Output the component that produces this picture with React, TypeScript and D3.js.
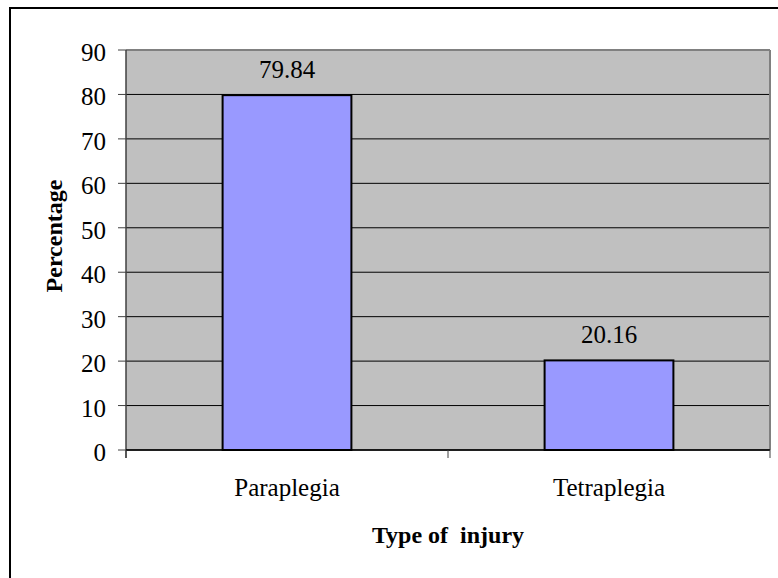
import React from "react";
import * as d3 from "d3";

const categories = ["Paraplegia", "Tetraplegia"];
const values = [79.84, 20.16];
const yTicks = [0, 10, 20, 30, 40, 50, 60, 70, 80, 90];
const yTitle = "Percentage";
const xTitle = "Type of  injury";

const W = 778;
const H = 578;
const plot = { left: 126, right: 770, top: 50, bottom: 450 };
const font = "'Liberation Serif', 'Times New Roman', serif";

export default function App() {
  const x = d3
    .scaleBand<string>()
    .domain(categories)
    .range([plot.left, plot.right])
    .paddingInner(0.6)
    .paddingOuter(0.3);
  const xOuter = d3.scaleBand<string>().domain(categories).range([plot.left, plot.right]);
  const y = d3.scaleLinear().domain([0, 90]).range([plot.bottom, plot.top]);
  const xTickPos = [plot.left, ...categories.map((c) => (xOuter(c) as number) + xOuter.bandwidth())];

  return (
    <svg
      width={W}
      height={H}
      style={{ position: "absolute", left: 0, top: 0, background: "#fff", fontFamily: font }}
    >
      <rect x={10} y={8} width={800} height={600} fill="#fff" stroke="#000" strokeWidth={2} />
      <rect
        x={plot.left}
        y={plot.top}
        width={plot.right - plot.left}
        height={plot.bottom - plot.top}
        fill="#C0C0C0"
      />
      {yTicks.map((t) => (
        <line key={"g" + t} x1={plot.left} x2={plot.right} y1={y(t)} y2={y(t)} stroke="#000" strokeWidth={1} />
      ))}
      <line x1={plot.left} x2={plot.right} y1={plot.top} y2={plot.top} stroke="#808080" strokeWidth={2} />
      <line x1={plot.right} x2={plot.right} y1={plot.top} y2={plot.bottom} stroke="#808080" strokeWidth={2} />
      {categories.map((c, i) => (
        <rect
          key={c}
          x={x(c)}
          y={y(values[i])}
          width={x.bandwidth()}
          height={y(0) - y(values[i])}
          fill="#9999FF"
          stroke="#000"
          strokeWidth={2}
        />
      ))}
      <line x1={plot.left} x2={plot.left} y1={plot.top} y2={plot.bottom + 8} stroke="#404040" strokeWidth={1.5} />
      <line x1={plot.left} x2={plot.right} y1={plot.bottom} y2={plot.bottom} stroke="#000" strokeWidth={1.5} />
      {yTicks.map((t) => (
        <g key={"t" + t}>
          <line x1={plot.left - 8} x2={plot.left} y1={y(t)} y2={y(t)} stroke="#404040" strokeWidth={1} />
          <text x={106} y={y(t) + 11} textAnchor="end" fontSize={25} fill="#000">
            {String(t)}
          </text>
        </g>
      ))}
      {xTickPos.map((p, i) => (
        <line key={"xt" + i} x1={p} x2={p} y1={plot.bottom} y2={plot.bottom + 8} stroke="#404040" strokeWidth={1} />
      ))}
      {categories.map((c, i) => (
        <g key={"l" + c}>
          <text
            x={(x(c) as number) + x.bandwidth() / 2}
            y={y(values[i]) - 17}
            textAnchor="middle"
            fontSize={25}
            fill="#000"
          >
            {values[i].toFixed(2)}
          </text>
          <text
            x={(xOuter(c) as number) + xOuter.bandwidth() / 2}
            y={496}
            textAnchor="middle"
            fontSize={25}
            fill="#000"
          >
            {c}
          </text>
        </g>
      ))}
      <text
        transform={`translate(62,236) rotate(-90)`}
        textAnchor="middle"
        fontSize={24}
        fontWeight="bold"
        fill="#000"
      >
        {yTitle}
      </text>
      <text
        x={448}
        y={543}
        textAnchor="middle"
        style={{ whiteSpace: "pre" }}
        fontSize={24}
        fontWeight="bold"
        fill="#000"
      >
        {xTitle}
      </text>
    </svg>
  );
}
